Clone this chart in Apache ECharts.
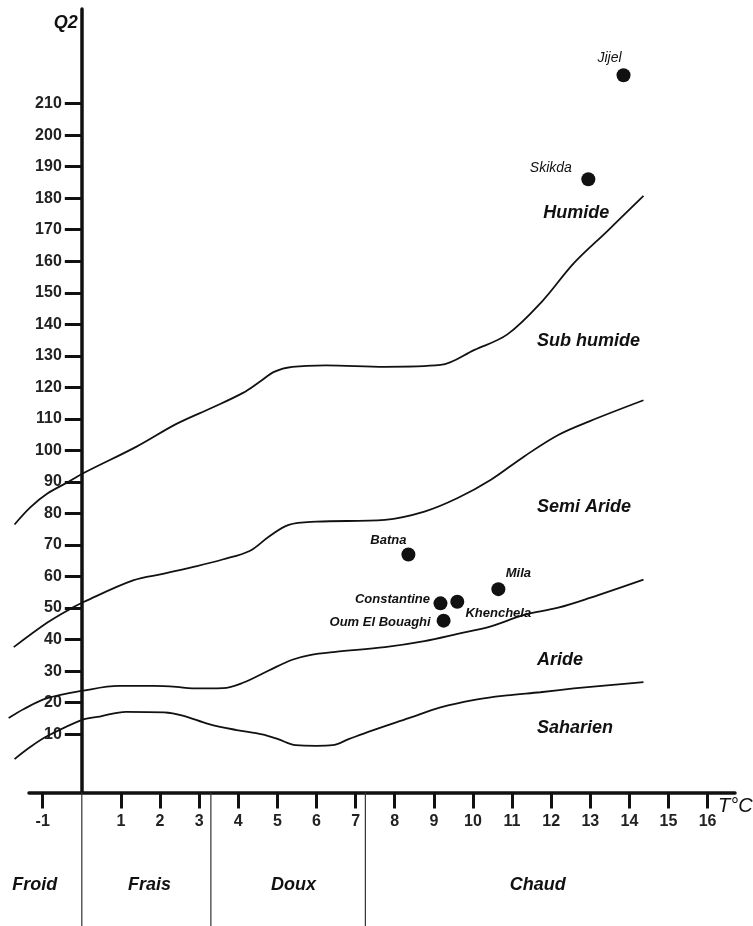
<!DOCTYPE html>
<html>
<head>
<meta charset="utf-8">
<script src="https://cdn.jsdelivr.net/npm/echarts@6/dist/echarts.min.js"></script>
<style>
html,body{margin:0;padding:0;background:#fff;}
#chart{width:753px;height:926px;}
</style>
</head>
<body>
<div id="chart"></div>
<script>
// ---- Data ----
const xTickLabels = [-1,1,2,3,4,5,6,7,8,9,10,11,12,13,14,15,16];
const yTickLabels = [10,20,30,40,50,60,70,80,90,100,110,120,130,140,150,160,170,180,190,200,210];

// Boundary curves (T°C = m, Q2)
const humideT  = [-1.72,-1.31,-0.88,-0.33,0.06,1.4,2.42,3.34,4.12,4.53,4.93,5.38,6.24,7.75,9.17,10.04,10.88,11.77,12.58,13.43,14.36];
const humideQ2 = [76.5,82,86.3,90.1,92.9,101.2,108.4,113.6,118.25,121.6,125,126.5,127,126.5,127.1,131.9,136.8,147.3,159.4,169.5,180.7];

const semiT  = [-1.74,-0.88,-0.33,0.06,1.31,2.1,2.91,3.6,4.29,4.78,5.29,6.0,7.75,8.76,9.61,10.46,11.31,12.18,12.99,14.36];
const semiQ2 = [37.6,45.4,49.5,52,58.8,60.9,63.2,65.4,68.1,72.6,76.4,77.4,78,80.6,84.9,90.7,98.1,104.9,109.3,115.9];

const arideT  = [-1.87,-1.48,-0.88,0.04,0.95,1.84,2.42,2.82,3.61,4.12,4.78,5.38,5.83,6.48,7.75,8.76,9.61,10.46,11.29,12.18,12.99,14.36];
const arideQ2 = [15.1,18,21.4,23.8,25.3,25.3,25,24.5,24.6,26.3,30.2,33.6,35.1,36.1,37.6,39.5,41.8,44.2,47.75,50.1,53.2,59];

const saharT  = [-1.72,-1.31,-0.88,0.04,0.46,1.13,2.1,2.58,3.25,3.96,4.61,5.02,5.47,6.0,6.41,6.82,7.36,8.36,9.17,10.04,10.87,11.72,12.58,13.43,14.36];
const saharQ2 = [2.1,6,9.4,14.7,15.6,17.1,16.9,15.9,13.2,11.3,9.9,8.4,6.5,6.3,6.5,8.4,10.9,15.1,18.5,20.9,22.3,23.3,24.5,25.5,26.5];

// Stations
const stations  = ['Jijel','Skikda','Batna','Mila','Constantine','Khenchela','Oum El Bouaghi'];
const stationT  = [13.85, 12.95, 8.35, 10.65, 9.17, 9.6, 9.25];
const stationQ2 = [219, 186, 67, 56, 51.5, 52, 46];

// Bioclimatic zone names (anchored at left edge)
const zones   = ['Humide','Sub humide','Semi Aride','Aride','Saharien'];
const zoneT   = [11.8, 11.64, 11.64, 11.64, 11.64];
const zoneQ2  = [175.3, 134.8, 81.9, 33.6, 12.1];

// Thermal variants (winter)
const variants      = ['Froid','Frais','Doux','Chaud'];
const variantT      = [-1.2, 1.73, 5.41, 11.66];
const variantBounds = [0, 3.3, 7.25];

// ---- Layout / styles ----
const FONT = "'Liberation Sans', Arial, sans-serif";
const INK = '#111';
const stationLabelStyle = {
  'Jijel':          {offset:[-14,-17],   fontWeight:'normal', fontSize:14},
  'Skikda':         {offset:[-37.5,-11], fontWeight:'normal', fontSize:14},
  'Batna':          {offset:[-20,-14]},
  'Mila':           {offset:[20,-16]},
  'Constantine':    {offset:[-48,-4]},
  'Khenchela':      {offset:[41,12]},
  'Oum El Bouaghi': {offset:[-63.5,2]}
};

const X_MIN = -1.35, X_MAX = 16.7;
const Y_MIN = -8.5, Y_MAX = 240;
const W = 753, GRID_LEFT = 29, GRID_RIGHT = 18, GRID_TOP = 9, GRID_BOTTOM = 133.5;
const plotW = W - GRID_LEFT - GRID_RIGHT;
const pxPerT = plotW / (X_MAX - X_MIN);
// y axis drawn at T = 0
const yAxisOffset = -(0 - X_MIN) * pxPerT;
// overlay grid for the curves, same scale but a little wider on the left
const CURVE_X_MIN = -2;
const curveGridLeft = GRID_LEFT - (X_MIN - CURVE_X_MIN) * pxPerT;

function curve(ts, qs){ return ts.map((t,i)=>[t, qs[i]]); }
function boundary(ts, qs){
  return {
    type:'line', xAxisIndex:2, yAxisIndex:2, data: curve(ts, qs),
    smooth:0.35, symbol:'none', clip:false, silent:true,
    lineStyle:{color:INK, width:1.8}
  };
}

const series = [
  boundary(humideT, humideQ2),
  boundary(semiT, semiQ2),
  boundary(arideT, arideQ2),
  boundary(saharT, saharQ2),
  {
    type:'scatter', xAxisIndex:0, yAxisIndex:0, symbol:'circle', symbolSize:14, clip:false,
    itemStyle:{color:INK, opacity:1},
    data: stations.map((n,i)=>{
      const s = stationLabelStyle[n];
      return {
        name:n, value:[stationT[i], stationQ2[i]],
        label:{offset:s.offset, fontWeight:s.fontWeight || 'bold', fontSize:s.fontSize || 13}
      };
    }),
    label:{show:true, position:'inside', formatter:'{b}', color:INK, fontStyle:'italic',
           fontFamily:FONT, align:'center', verticalAlign:'middle'}
  },
  {
    type:'scatter', xAxisIndex:0, yAxisIndex:0, symbolSize:0, silent:true, clip:false,
    itemStyle:{opacity:1},
    data: zones.map((n,i)=>({name:n, value:[zoneT[i], zoneQ2[i]]})),
    label:{show:true, position:'inside', formatter:'{b}', color:INK, fontStyle:'italic', fontWeight:'bold',
           fontSize:18, fontFamily:FONT, align:'left', verticalAlign:'middle'}
  }
];

variantBounds.forEach(b=>{
  series.push({
    type:'line', xAxisIndex:1, yAxisIndex:1, data:[[b,0],[b,1]], symbol:'none', silent:true, clip:false,
    lineStyle:{color:'#333', width:1.2}
  });
});
series.push({
  type:'scatter', xAxisIndex:1, yAxisIndex:1, symbolSize:0, silent:true, clip:false,
  itemStyle:{opacity:1},
  data: variants.map((n,i)=>({name:n, value:[variantT[i], 0.31]})),
  label:{show:true, position:'inside', formatter:'{b}', color:INK, fontStyle:'italic', fontWeight:'bold',
         fontSize:18, fontFamily:FONT, align:'center', verticalAlign:'middle'}
});

const option = {
  animation:false,
  backgroundColor:'#fff',
  grid:[
    {left:GRID_LEFT, right:GRID_RIGHT, top:GRID_TOP, bottom:GRID_BOTTOM, containLabel:false, outerBoundsMode:'none'},
    {left:GRID_LEFT, right:GRID_RIGHT, top:926 - GRID_BOTTOM, bottom:0, containLabel:false, outerBoundsMode:'none'},
    {left:curveGridLeft, right:GRID_RIGHT, top:GRID_TOP, bottom:GRID_BOTTOM, containLabel:false, outerBoundsMode:'none'}
  ],
  xAxis:[
    {
      type:'value', gridIndex:0, min:X_MIN, max:X_MAX,
      name:'T°C', nameLocation:'end', nameGap:-17, nameMoveOverlap:false,
      nameTextStyle:{fontFamily:FONT, fontStyle:'italic', fontSize:20, color:INK,
                     align:'left', verticalAlign:'top', padding:[4,0,0,0]},
      axisLine:{onZero:false, lineStyle:{color:INK, width:3.5}},
      axisTick:{show:true, length:16, customValues:xTickLabels, lineStyle:{color:INK, width:3}},
      axisLabel:{customValues:xTickLabels, margin:21, fontFamily:FONT, fontWeight:'bold',
                 fontSize:16, color:'#222'},
      splitLine:{show:false}
    },
    {type:'value', gridIndex:1, min:X_MIN, max:X_MAX, show:false},
    {type:'value', gridIndex:2, min:CURVE_X_MIN, max:X_MAX, show:false}
  ],
  yAxis:[
    {
      type:'value', gridIndex:0, min:Y_MIN, max:Y_MAX, offset:yAxisOffset,
      name:'Q2', nameLocation:'end', nameGap:-14.5, nameMoveOverlap:false,
      nameTextStyle:{fontFamily:FONT, fontStyle:'italic', fontWeight:'bold', fontSize:18, color:INK,
                     align:'right', verticalAlign:'middle', padding:[0,4,0,0]},
      axisLine:{show:true, onZero:false, lineStyle:{color:INK, width:3.5}},
      axisTick:{show:true, length:17, customValues:yTickLabels, lineStyle:{color:INK, width:3}},
      axisLabel:{customValues:yTickLabels, margin:20, fontFamily:FONT, fontWeight:'bold',
                 fontSize:16, color:'#222'},
      splitLine:{show:false}
    },
    {type:'value', gridIndex:1, min:0, max:1, show:false},
    {type:'value', gridIndex:2, min:Y_MIN, max:Y_MAX, show:false}
  ],
  series: series
};

const chart = echarts.init(document.getElementById('chart'), null, {renderer:'canvas'});
chart.setOption(option);
</script>
</body>
</html>
